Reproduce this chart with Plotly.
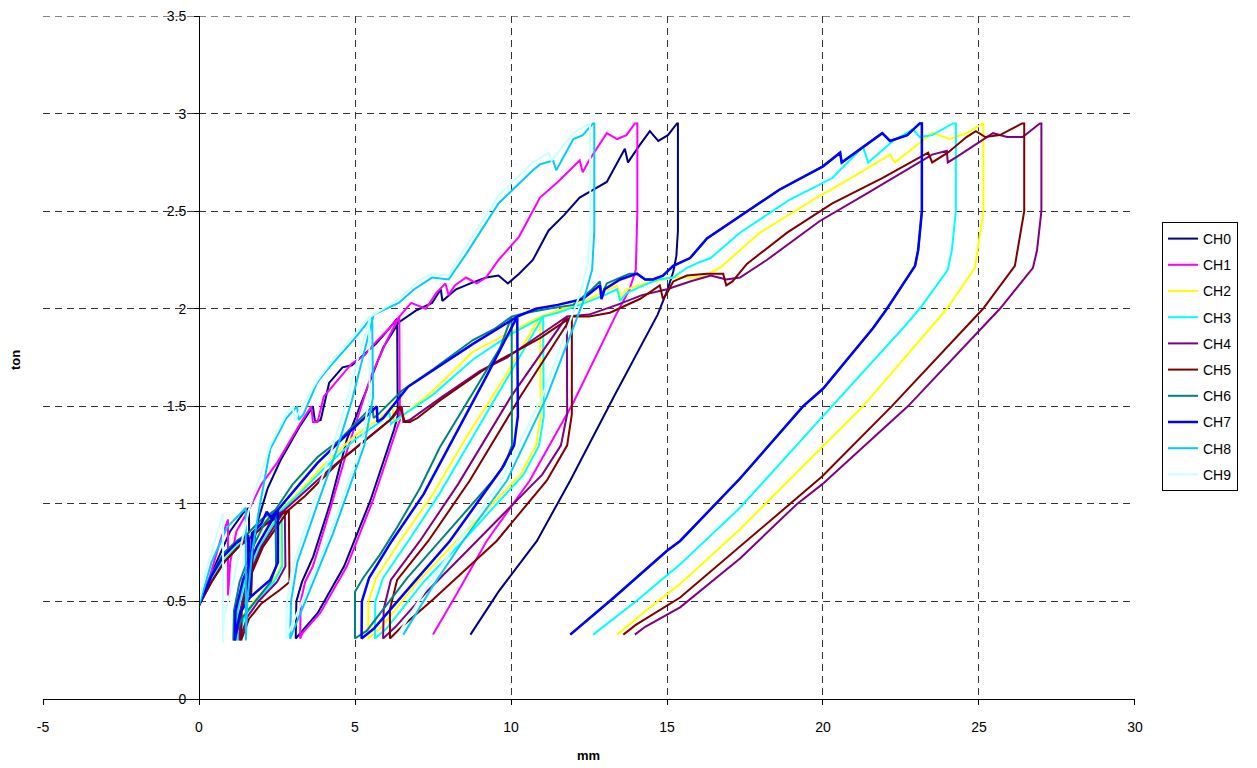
import plotly.graph_objects as go

# ---------------- data ----------------
names = ["CH0", "CH1", "CH2", "CH3", "CH4", "CH5", "CH6", "CH7", "CH8", "CH9"]
colors = ["#000080", "#FF00FF", "#FFFF00", "#00FFFF", "#800080",
          "#800000", "#008080", "#0000FF", "#00CCFF", "#CCFFFF"]

ch0_x = [0, 0.5, 1.0, 1.4, 1.6, 1.62, 1.7, 1.9, 2.2, 2.6, 3.24, 3.65, 3.72, 3.9, 4.17, 4.6, 4.9, 5.67, 6.0, 6.35,
         6.37, 6.25, 5.5, 4.65, 3.8, 3.25, 3.1, 3.12, 3.3, 3.66, 4.2, 4.74, 5.4, 5.9, 6.4, 6.95, 7.47, 7.75, 7.8, 8.24,
         8.7, 9.2, 9.6, 9.9, 10.26, 10.7, 11.2, 11.7, 12.2, 13.07, 13.65, 13.75, 14.13, 14.45, 14.72, 15.03, 15.32, 15.35, 15.35, 15.3,
         15.2, 15.0, 14.7, 13.3, 11.9, 10.83, 9.6, 8.7]
ch0_y = [0.48, 0.68, 0.86, 0.95, 0.98, 0.53, 0.75, 0.92, 1.08, 1.22, 1.40, 1.50, 1.42, 1.43, 1.62, 1.70, 1.71, 1.82, 1.88, 1.95,
         1.45, 1.38, 1.02, 0.68, 0.44, 0.34, 0.31, 0.50, 0.60, 0.73, 1.00, 1.33, 1.60, 1.80, 1.93, 1.99, 2.03, 2.10, 2.04, 2.10,
         2.13, 2.16, 2.17, 2.13, 2.18, 2.25, 2.40, 2.48, 2.57, 2.65, 2.82, 2.75, 2.84, 2.91, 2.86, 2.89, 2.95, 2.95, 2.40, 2.27,
         2.19, 2.09, 1.97, 1.55, 1.12, 0.81, 0.55, 0.33]

ch1_x = [0, 0.35, 0.7, 0.93, 0.93, 1.0, 1.2, 1.63, 2.0, 2.5, 3.24, 3.6, 3.65, 3.8, 4.0, 4.42, 4.9, 5.3, 5.67, 6.1,
         6.42, 6.44, 6.35, 5.58, 4.74, 3.88, 3.33, 3.24, 3.26, 3.4, 3.65, 4.2, 4.74, 5.06, 5.5, 6.0, 6.42, 6.8, 7.27, 7.6,
         7.9, 8.0, 8.2, 8.56, 8.9, 9.2, 9.6, 10.26, 10.93, 11.5, 12.2, 12.3, 12.5, 13.07, 13.4, 13.7, 13.97, 14.05, 14.05, 14.0,
         13.8, 13.4, 12.0, 10.6, 9.22, 8.3, 7.6, 7.5]
ch1_y = [0.48, 0.63, 0.82, 0.92, 0.53, 0.70, 0.86, 0.98, 1.10, 1.21, 1.41, 1.50, 1.42, 1.42, 1.55, 1.63, 1.72, 1.76, 1.83, 1.90,
         1.96, 1.43, 1.39, 1.02, 0.68, 0.44, 0.34, 0.31, 0.50, 0.60, 0.68, 0.97, 1.27, 1.43, 1.65, 1.83, 1.96, 2.03, 2.00, 2.08,
         2.13, 2.07, 2.12, 2.16, 2.13, 2.16, 2.25, 2.37, 2.57, 2.65, 2.76, 2.70, 2.76, 2.90, 2.87, 2.89, 2.95, 2.95, 2.50, 2.20,
         2.10, 1.98, 1.52, 1.12, 0.81, 0.55, 0.36, 0.33]

ch2_x = [0, 0.4, 0.8, 1.2, 1.6, 2.0, 2.3, 2.6, 2.62, 2.35, 1.75, 1.4, 1.2, 1.22, 1.45, 1.9, 2.6, 3.2, 4.0, 5.0,
         5.8, 6.2, 6.25, 6.45, 7.5, 8.78, 10.0, 10.93, 10.95, 10.8, 10.3, 8.26, 7.0, 5.8, 5.42, 5.43, 5.68, 6.44, 7.5, 8.6,
         9.8, 10.93, 11.5, 12.5, 13.4, 13.5, 13.7, 14.3, 15.2, 15.74, 16.06, 16.7, 17.98, 19.8, 21.0, 22.15, 22.3, 23.5, 24.07, 24.6,
         25.1, 25.14, 25.14, 24.97, 24.87, 23.97, 21.28, 19.9, 17.34, 15.42, 14.3, 13.4]
ch2_y = [0.48, 0.62, 0.72, 0.79, 0.84, 0.90, 0.94, 0.97, 0.68, 0.60, 0.50, 0.42, 0.30, 0.45, 0.61, 0.78, 0.97, 1.06, 1.20, 1.35,
         1.44, 1.50, 1.42, 1.44, 1.58, 1.78, 1.88, 1.96, 1.45, 1.30, 1.15, 0.81, 0.60, 0.36, 0.31, 0.50, 0.62, 0.81, 1.05, 1.35,
         1.65, 1.96, 1.99, 2.05, 2.12, 2.06, 2.10, 2.13, 2.16, 2.16, 2.16, 2.21, 2.39, 2.57, 2.68, 2.79, 2.75, 2.90, 2.87, 2.90,
         2.95, 2.95, 2.50, 2.30, 2.21, 2.00, 1.50, 1.28, 0.87, 0.59, 0.45, 0.33]

ch3_x = [0, 0.4, 0.8, 1.2, 1.6, 2.0, 2.3, 2.65, 2.67, 2.4, 1.8, 1.45, 1.22, 1.24, 1.47, 1.95, 2.65, 3.2, 4.0, 5.0,
         5.8, 6.1, 6.15, 6.4, 7.5, 8.78, 10.0, 11.03, 11.05, 10.9, 10.4, 8.46, 7.2, 6.0, 5.64, 5.65, 5.9, 6.71, 7.7, 8.8,
         9.9, 11.03, 11.5, 12.2, 13.0, 13.4, 13.5, 13.7, 14.1, 14.7, 15.2, 15.64, 16.06, 16.4, 17.34, 18.94, 20.3, 21.28, 21.45, 22.24,
         22.88, 23.1, 23.5, 24.17, 24.26, 24.26, 24.13, 24.0, 23.1, 22.56, 20.0, 17.34, 15.42, 14.0, 12.63]
ch3_y = [0.48, 0.61, 0.71, 0.78, 0.83, 0.89, 0.93, 0.97, 0.68, 0.60, 0.50, 0.42, 0.30, 0.45, 0.61, 0.78, 0.97, 1.05, 1.18, 1.33,
         1.42, 1.47, 1.41, 1.44, 1.56, 1.74, 1.87, 1.96, 1.45, 1.30, 1.15, 0.81, 0.60, 0.36, 0.31, 0.50, 0.62, 0.81, 1.05, 1.35,
         1.65, 1.96, 1.98, 2.02, 2.07, 2.10, 2.04, 2.08, 2.11, 2.15, 2.16, 2.21, 2.24, 2.26, 2.39, 2.56, 2.67, 2.83, 2.75, 2.86,
         2.92, 2.88, 2.89, 2.95, 2.95, 2.50, 2.30, 2.20, 2.00, 1.90, 1.45, 0.98, 0.69, 0.50, 0.33]

ch4_x = [0, 0.4, 0.8, 1.2, 1.6, 2.0, 2.4, 2.75, 2.77, 2.5, 1.9, 1.55, 1.3, 1.32, 1.55, 2.0, 2.75, 3.3, 4.2, 5.2,
         6.2, 6.5, 6.55, 6.75, 7.8, 9.0, 9.87, 11.15, 11.79, 11.8, 11.6, 11.0, 8.9, 7.3, 6.3, 5.9, 5.92, 6.15, 7.08, 8.3,
         10.0, 11.79, 12.5, 13.4, 14.2, 15.0, 15.74, 16.4, 16.9, 17.34, 18.2, 19.9, 21.4, 23.5, 23.97, 24.0, 24.3, 25.45, 25.9, 26.4,
         26.95, 27.0, 27.0, 26.86, 26.73, 25.67, 22.72, 19.97, 19.17, 17.34, 15.42, 14.3, 13.97]
ch4_y = [0.48, 0.60, 0.70, 0.77, 0.82, 0.88, 0.93, 0.97, 0.68, 0.60, 0.50, 0.42, 0.30, 0.45, 0.61, 0.78, 0.97, 1.05, 1.18, 1.31,
         1.44, 1.50, 1.42, 1.43, 1.55, 1.68, 1.75, 1.89, 1.96, 1.46, 1.30, 1.15, 0.81, 0.55, 0.37, 0.31, 0.46, 0.61, 0.81, 1.10,
         1.55, 1.96, 1.97, 2.02, 2.07, 2.10, 2.14, 2.17, 2.15, 2.16, 2.25, 2.45, 2.59, 2.79, 2.81, 2.75, 2.78, 2.90, 2.88, 2.88,
         2.95, 2.95, 2.50, 2.30, 2.21, 2.00, 1.50, 1.10, 1.00, 0.72, 0.47, 0.37, 0.33]

ch5_x = [0, 0.4, 0.8, 1.2, 1.57, 1.67, 1.7, 1.75, 2.1, 2.5, 2.88, 2.9, 2.6, 2.0, 1.6, 1.35, 1.37, 1.6, 2.05, 2.88,
         3.4, 4.52, 5.5, 6.12, 6.44, 6.6, 6.76, 7.0, 7.72, 9.33, 10.93, 11.95, 11.95, 11.8, 11.15, 9.54, 7.5, 6.5, 6.12, 6.12,
         6.35, 7.35, 8.68, 10.3, 11.95, 12.5, 13.17, 14.13, 14.77, 14.87, 15.0, 15.2, 15.64, 16.28, 16.8, 16.9, 17.1, 17.56, 18.85, 20.3,
         21.9, 23.37, 23.5, 24.0, 24.6, 24.9, 25.2, 25.67, 26.38, 26.45, 26.45, 26.25, 26.15, 25.13, 22.2, 19.97, 18.94, 17.34, 15.42, 14.0,
         13.6]
ch5_y = [0.48, 0.60, 0.70, 0.77, 0.83, 0.53, 0.62, 0.84, 0.89, 0.93, 0.97, 0.60, 0.56, 0.49, 0.41, 0.30, 0.45, 0.61, 0.78, 0.97,
         1.04, 1.22, 1.35, 1.43, 1.50, 1.42, 1.42, 1.44, 1.53, 1.71, 1.85, 1.96, 1.46, 1.30, 1.12, 0.81, 0.51, 0.37, 0.31, 0.46,
         0.61, 0.81, 1.12, 1.55, 1.96, 1.96, 1.98, 2.05, 2.12, 2.05, 2.08, 2.14, 2.17, 2.18, 2.18, 2.12, 2.14, 2.23, 2.39, 2.54,
         2.67, 2.80, 2.75, 2.80, 2.88, 2.91, 2.88, 2.89, 2.95, 2.95, 2.50, 2.30, 2.22, 2.00, 1.50, 1.14, 1.00, 0.78, 0.52, 0.38,
         0.33]

ch6_x = [0, 0.4, 0.8, 1.2, 1.57, 2.0, 2.45, 2.47, 2.3, 1.8, 1.4, 1.1, 1.12, 1.3, 1.7, 2.1, 2.45, 3.0, 3.8, 4.52,
         5.2, 5.55, 5.6, 5.75, 6.5, 7.5, 8.78, 9.5, 10.02, 10.03, 9.8, 9.42, 7.72, 6.67, 5.38, 5.0, 5.0, 5.26, 5.8, 6.35,
         7.08, 7.72, 8.78, 9.65, 10.02, 10.5, 11.2, 12.0, 12.6, 12.85, 12.9, 13.07, 13.5, 13.8, 14.04, 14.3, 14.55, 14.87, 15.2, 15.74,
         16.28, 17.56, 18.6, 20.0, 20.55, 20.6, 21.4, 21.9, 22.15, 22.7, 23.1, 23.17, 23.17, 23.05, 22.95, 22.05, 21.6, 20.0, 19.36, 17.34,
         15.42, 15.0, 13.3, 11.9]
ch6_y = [0.48, 0.64, 0.75, 0.81, 0.85, 0.92, 0.97, 0.68, 0.60, 0.50, 0.42, 0.30, 0.45, 0.60, 0.77, 0.90, 0.97, 1.10, 1.24, 1.33,
         1.44, 1.50, 1.44, 1.46, 1.58, 1.69, 1.84, 1.90, 1.96, 1.30, 1.20, 1.12, 0.81, 0.62, 0.35, 0.31, 0.55, 0.62, 0.74, 0.88,
         1.08, 1.29, 1.57, 1.80, 1.96, 1.98, 2.00, 2.02, 2.10, 2.14, 2.07, 2.13, 2.16, 2.18, 2.18, 2.15, 2.15, 2.17, 2.22, 2.26,
         2.36, 2.50, 2.61, 2.73, 2.80, 2.75, 2.84, 2.90, 2.86, 2.89, 2.95, 2.95, 2.50, 2.30, 2.22, 2.00, 1.90, 1.59, 1.50, 1.13,
         0.81, 0.76, 0.52, 0.33]

ch7_x = [0, 0.4, 0.77, 1.2, 1.57, 1.6, 1.65, 1.7, 2.0, 2.17, 2.3, 2.53, 2.53, 2.28, 1.63, 1.31, 1.15, 1.17, 1.41, 1.85,
         2.53, 3.0, 3.8, 4.7, 5.5, 5.7, 5.72, 5.9, 6.7, 7.72, 8.78, 9.6, 10.2, 10.22, 10.1, 9.7, 8.04, 6.9, 5.6, 5.21,
         5.22, 5.45, 6.18, 7.2, 8.2, 9.2, 10.2, 10.8, 11.5, 12.3, 12.85, 12.9, 13.0, 13.5, 14.04, 14.3, 14.55, 14.87, 15.2, 15.74,
         16.28, 17.56, 18.6, 20.0, 20.55, 20.6, 21.4, 21.9, 22.15, 22.7, 23.1, 23.17, 23.17, 23.05, 22.95, 22.05, 21.6, 20.0, 19.36, 17.34,
         15.42, 15.0, 13.3, 11.9]
ch7_y = [0.48, 0.63, 0.73, 0.80, 0.84, 0.53, 0.60, 0.85, 0.90, 0.96, 0.93, 0.97, 0.70, 0.61, 0.52, 0.44, 0.30, 0.45, 0.61, 0.78,
         0.97, 1.06, 1.21, 1.35, 1.47, 1.50, 1.42, 1.44, 1.60, 1.71, 1.82, 1.90, 1.96, 1.45, 1.30, 1.18, 0.81, 0.60, 0.36, 0.31,
         0.50, 0.62, 0.81, 1.05, 1.35, 1.65, 1.96, 2.00, 2.02, 2.05, 2.12, 2.05, 2.10, 2.15, 2.18, 2.15, 2.15, 2.17, 2.22, 2.26,
         2.36, 2.50, 2.61, 2.73, 2.80, 2.75, 2.84, 2.90, 2.86, 2.89, 2.95, 2.95, 2.50, 2.30, 2.22, 2.00, 1.90, 1.59, 1.50, 1.13,
         0.81, 0.76, 0.52, 0.33]

ch8_x = [0, 0, 0.4, 0.9, 1.5, 1.5, 1.55, 1.7, 1.9, 2.1, 2.28, 2.8, 3.14, 3.2, 3.35, 3.78, 4.07, 5.0, 5.55, 5.58,
         5.3, 4.3, 3.4, 2.92, 2.95, 3.15, 3.8, 4.4, 4.9, 5.3, 5.6, 6.4, 6.9, 7.47, 8.0, 8.56, 9.6, 10.7, 10.93, 11.35,
         11.45, 12.0, 12.3, 12.63, 12.67, 12.67, 12.6, 12.3, 11.15, 9.87, 8.46, 7.5, 6.55]
ch8_y = [0.30, 0.48, 0.70, 0.88, 0.98, 0.30, 0.50, 0.75, 0.95, 1.12, 1.28, 1.44, 1.50, 1.43, 1.46, 1.62, 1.68, 1.85, 1.96, 1.55,
         1.30, 0.85, 0.50, 0.31, 0.50, 0.70, 1.00, 1.27, 1.53, 1.78, 1.97, 2.03, 2.10, 2.16, 2.15, 2.28, 2.54, 2.71, 2.74, 2.76,
         2.71, 2.87, 2.89, 2.95, 2.95, 2.40, 2.20, 2.03, 1.55, 1.12, 0.81, 0.58, 0.33]

ch9_x = [0, 0, 0.3, 0.6, 0.77, 0.77, 0.8, 1.09, 1.41, 1.6, 2.28, 2.8, 3.0, 3.08, 3.2, 3.78, 4.3, 5.0, 5.45, 5.47,
         5.2, 4.2, 3.3, 2.8, 2.82, 3.0, 3.6, 4.2, 4.74, 5.1, 5.5, 6.4, 7.0, 7.47, 8.0, 8.56, 9.6, 10.7, 11.2, 11.3,
         12.0, 12.53, 12.55, 12.45, 12.2, 11.0, 9.7, 8.3, 7.3, 6.38]
ch9_y = [0.29, 0.50, 0.70, 0.86, 0.95, 0.29, 0.42, 0.60, 0.83, 0.97, 1.30, 1.46, 1.50, 1.43, 1.47, 1.63, 1.74, 1.87, 1.96, 1.55,
         1.30, 0.85, 0.50, 0.31, 0.50, 0.68, 0.98, 1.25, 1.53, 1.75, 1.96, 2.05, 2.14, 2.18, 2.17, 2.32, 2.58, 2.75, 2.80, 2.76,
         2.90, 2.95, 2.40, 2.22, 2.07, 1.55, 1.12, 0.81, 0.57, 0.33]

xs = [ch0_x, ch1_x, ch2_x, ch3_x, ch4_x, ch5_x, ch6_x, ch7_x, ch8_x, ch9_x]
ys = [ch0_y, ch1_y, ch2_y, ch3_y, ch4_y, ch5_y, ch6_y, ch7_y, ch8_y, ch9_y]

x_ticks = [-5, 0, 5, 10, 15, 20, 25, 30]
y_ticks = [0, 0.5, 1, 1.5, 2, 2.5, 3, 3.5]

# ---------------- figure ----------------
fig = go.Figure()
for i, name in enumerate(names):
    fig.add_trace(go.Scatter(
        x=xs[i], y=ys[i], mode="lines", name=name, legendgroup=name,
        line=dict(color=colors[i], width=2.5 if name == "CH7" else 2.0),
    ))

# page body has an 8px default margin: work in figure coordinates
OFF = 8
W, H = 1249, 760
L, R, T, B = 43 - OFF, 1135 - OFF, 16 - OFF, 699 - OFF
PW, PH = R - L, B - T
GRID_DASH = "7px,5px"

fig.update_layout(
    width=W, height=H,
    margin=dict(l=L, r=W - R, t=T, b=H - B, autoexpand=False),
    plot_bgcolor="white", paper_bgcolor="white",
    font=dict(family="Liberation Sans, Arial, sans-serif", size=14, color="black"),
    legend=dict(
        x=(1162 - OFF - L) / PW, y=(B - (222 - OFF)) / PH,
        xanchor="left", yanchor="top",
        bordercolor="black", borderwidth=1, bgcolor="white",
        font=dict(size=14), tracegroupgap=5, itemwidth=30,
    ),
    xaxis=dict(
        range=[-5.0005, 30.0005], tickvals=x_ticks, ticktext=[str(v) for v in x_ticks],
        showgrid=True, gridcolor="#333333", griddash=GRID_DASH, gridwidth=1,
        zeroline=False, showline=True, linecolor="black", linewidth=1,
        ticks="outside", ticklen=5, tickcolor="black", ticklabelstandoff=10,
        automargin=False,
    ),
    yaxis=dict(
        range=[0, 3.5005], tickvals=y_ticks, ticktext=[("%g" % v) for v in y_ticks],
        anchor="free", position=(199 - OFF - L) / PW,
        showgrid=True, gridcolor="#333333", griddash=GRID_DASH, gridwidth=1,
        zeroline=False, showline=True, linecolor="black", linewidth=1,
        ticks="outside", ticklen=5, tickcolor="black", ticklabelstandoff=5,
        automargin=False,
    ),
    shapes=[
        # top grid line (at the last y tick) that Plotly drops at the plot edge
        dict(type="line", xref="paper", yref="y", x0=0, x1=1,
             y0=y_ticks[-1], y1=y_ticks[-1], layer="below",
             line=dict(color="#333333", width=1, dash=GRID_DASH)),
    ],
    annotations=[
        dict(text="<b>ton</b>", xref="paper", yref="paper",
             x=(15 - OFF - L) / PW, y=(B - (360 - OFF)) / PH, textangle=-90,
             xanchor="center", yanchor="middle",
             showarrow=False, font=dict(size=13)),
        dict(text="<b>mm</b>", xref="paper", yref="paper",
             x=(588 - OFF - L) / PW, y=(B - (755 - OFF)) / PH,
             xanchor="center", yanchor="middle",
             showarrow=False, font=dict(size=13)),
    ],
)

fig.write_html("out.html")
